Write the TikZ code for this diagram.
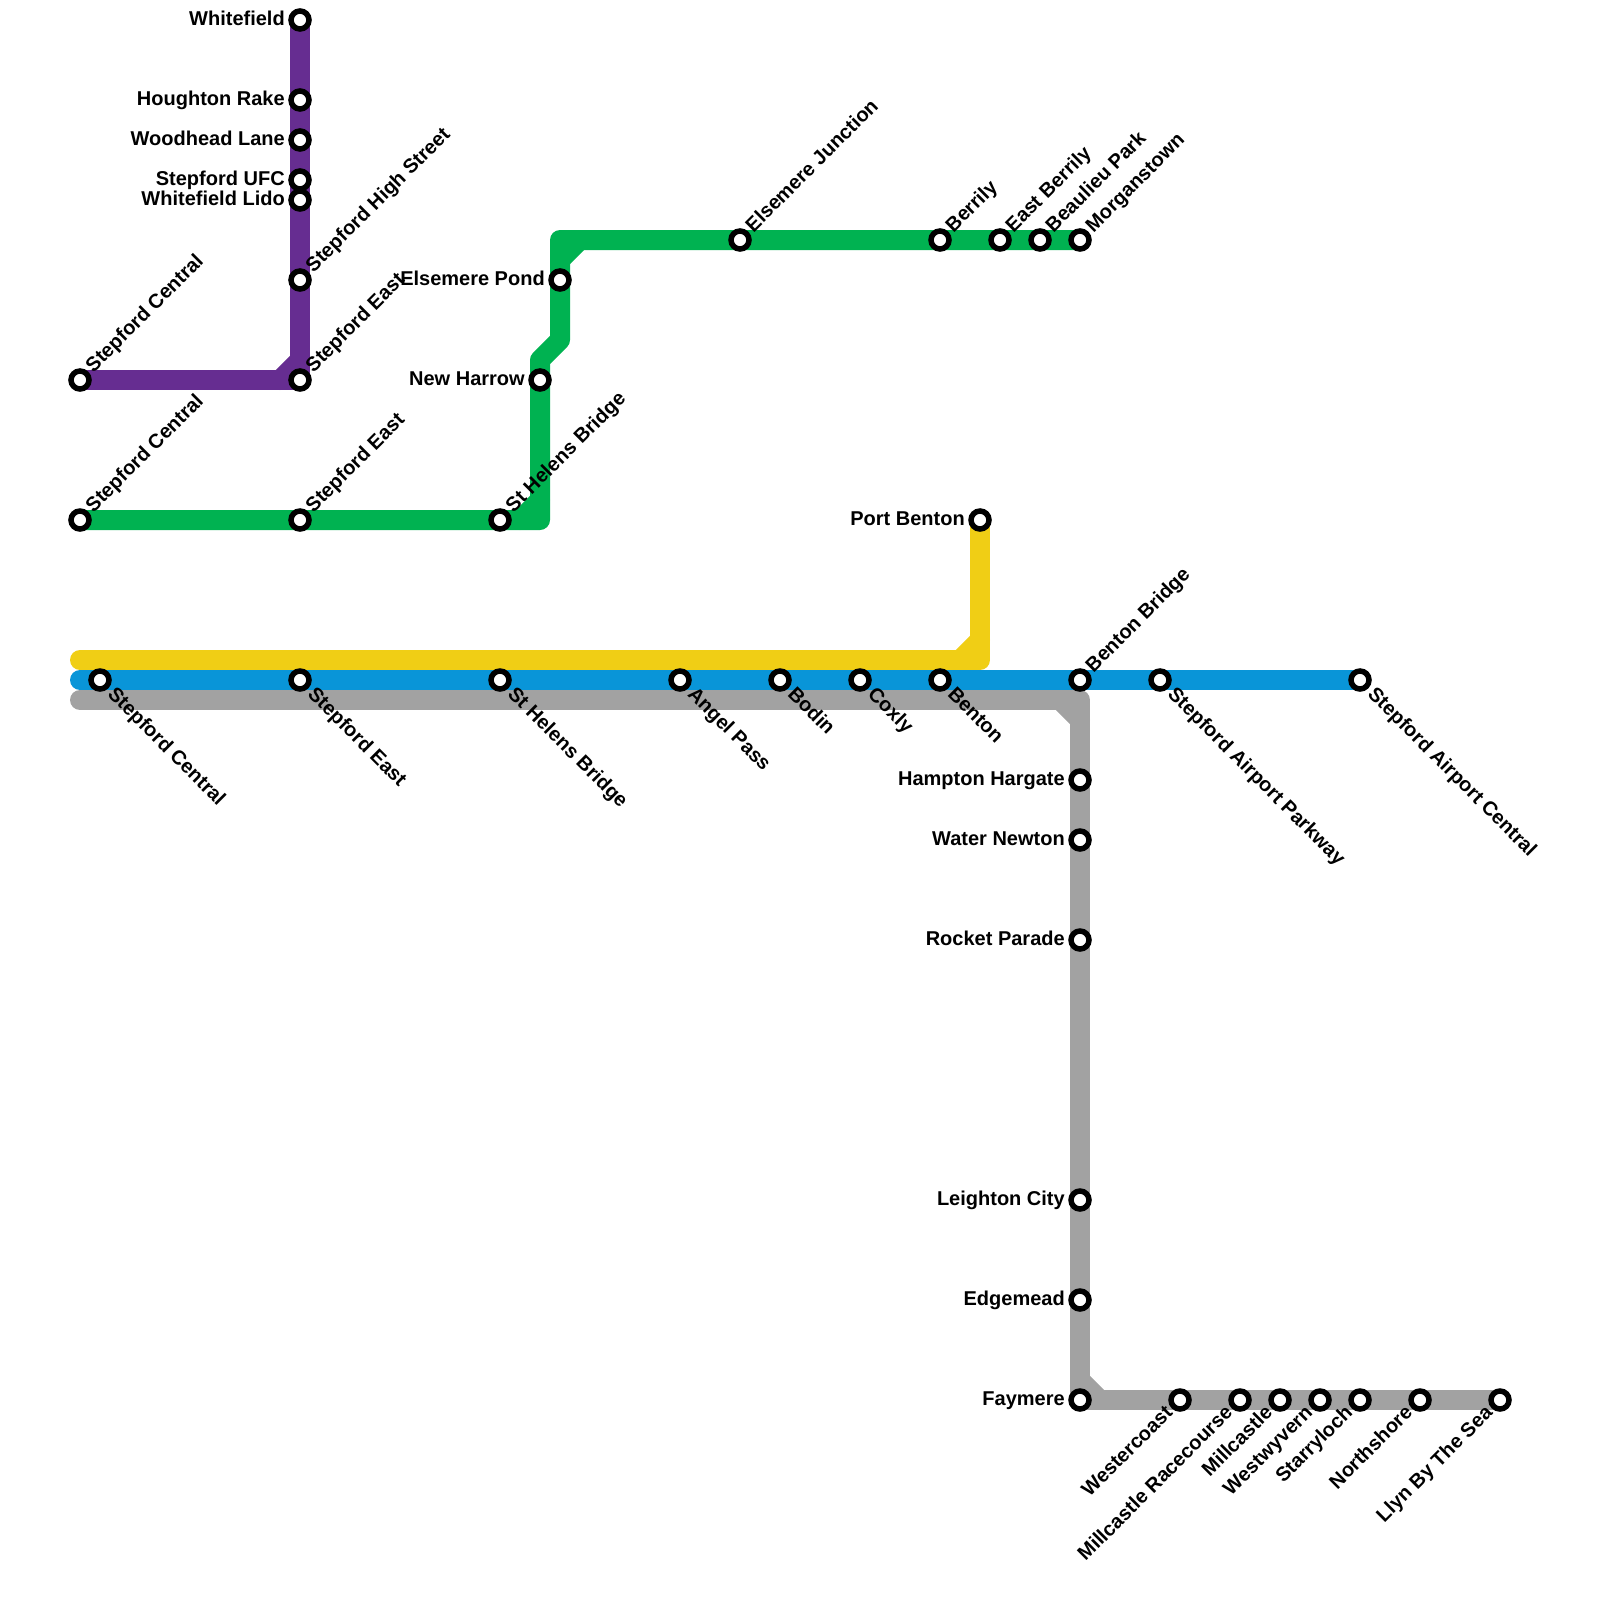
\documentclass[tikz,border=0pt]{standalone}
\usepackage{fontspec}
\setmainfont{Liberation Sans}
\usepackage{xcolor}
\usepackage{tikz}
\usetikzlibrary{backgrounds}

\definecolor{purpleline}{RGB}{102,45,145}
\definecolor{greenline}{RGB}{0,178,81}
\definecolor{yellowline}{RGB}{240,206,21}
\definecolor{blueline}{RGB}{9,149,216}
\definecolor{greyline}{RGB}{162,162,162}

\begin{document}
\begin{tikzpicture}[
    x=1pt, y=-1pt,
    station/.style={circle, draw=black, fill=white, line width=5.5pt, minimum size=18pt, inner sep=0pt},
    stationtext/.style={font=\fontsize{20}{24}\selectfont\bfseries, text height=14.5pt, inner sep=0pt, text=black},
    lbleft/.style={label={[stationtext, text depth=3.5pt, label distance=3.3pt]left:#1}},
    lbup/.style={label={[stationtext, text depth=0pt, label distance=3.5pt, rotate=45, anchor=west]45:#1}},
    lbdown/.style={label={[stationtext, text depth=10pt, label distance=5.5pt, rotate=-45, anchor=west]-45:#1}},
    lbunder/.style={label={[stationtext, text depth=9pt, label distance=3.5pt, rotate=45, anchor=east]225:#1}},
    route/.style={line width=20pt, line cap=round, line join=round}
]
\useasboundingbox (0,0) rectangle (1600,1600);

% Purple line
\node[station, lbleft=Whitefield] (whitefield) at (300, 20) {};
\node[station, lbleft=Houghton Rake] (houghton) at (300, 100) {};
\node[station, lbleft=Woodhead Lane] (woodhead) at (300, 140) {};
\node[station, lbleft=Stepford UFC] (ufc) at (300, 180) {};
\node[station, lbleft=Whitefield Lido] (lido) at (300, 200) {};
\node[station, lbup=Stepford High Street] (highstreet) at (300, 280) {};
\node[station, lbup=Stepford East] (eastp) at (300, 380) {};
\node[station, lbup=Stepford Central] (centralp) at (80, 380) {};

% Green line
\node[station, lbup=Stepford Central] (centralg) at (80, 520) {};
\node[station, lbup=Stepford East] (eastg) at (300, 520) {};
\node[station, lbup=St Helens Bridge] (helensg) at (500, 520) {};
\node[station, lbleft=New Harrow] (harrow) at (540, 380) {};
\node[station, lbleft=Elsemere Pond] (pond) at (560, 280) {};
\node[station, lbup=Elsemere Junction] (junction) at (740, 240) {};
\node[station, lbup=Berrily] (berrily) at (940, 240) {};
\node[station, lbup=East Berrily] (eastberrily) at (1000, 240) {};
\node[station, lbup=Beaulieu Park] (beaulieu) at (1040, 240) {};
\node[station, lbup=Morganstown] (morgan) at (1080, 240) {};

% Yellow line
\node[station, lbleft=Port Benton] (portbenton) at (980, 520) {};

% Blue line
\node[station, lbdown=Stepford Central] (centralb) at (100, 680) {};
\node[station, lbdown=Stepford East] (eastb) at (300, 680) {};
\node[station, lbdown=St Helens Bridge] (helensb) at (500, 680) {};
\node[station, lbdown=Angel Pass] (angel) at (680, 680) {};
\node[station, lbdown=Bodin] (bodin) at (780, 680) {};
\node[station, lbdown=Coxly] (coxly) at (860, 680) {};
\node[station, lbdown=Benton] (benton) at (940, 680) {};
\node[station, lbup=Benton Bridge] (bentonbridge) at (1080, 680) {};
\node[station, lbdown=Stepford Airport Parkway] (parkway) at (1160, 680) {};
\node[station, lbdown=Stepford Airport Central] (airport) at (1360, 680) {};

% Grey line
\node[station, lbleft=Hampton Hargate] (hampton) at (1080, 780) {};
\node[station, lbleft=Water Newton] (newton) at (1080, 840) {};
\node[station, lbleft=Rocket Parade] (rocket) at (1080, 940) {};
\node[station, lbleft=Leighton City] (leighton) at (1080, 1200) {};
\node[station, lbleft=Edgemead] (edgemead) at (1080, 1300) {};
\node[station, lbleft=Faymere] (faymere) at (1080, 1400) {};
\node[station, lbunder=Westercoast] (westercoast) at (1180, 1400) {};
\node[station, lbunder=Millcastle Racecourse] (racecourse) at (1240, 1400) {};
\node[station, lbunder=Millcastle] (millcastle) at (1280, 1400) {};
\node[station, lbunder=Westwyvern] (westwyvern) at (1320, 1400) {};
\node[station, lbunder=Starryloch] (starryloch) at (1360, 1400) {};
\node[station, lbunder=Northshore] (northshore) at (1420, 1400) {};
\node[station, lbunder=Llyn By The Sea] (llyn) at (1500, 1400) {};

% Corners
\coordinate (purplecorner) at (300, 380);
\coordinate (purplecuta) at (300, 360);
\coordinate (purplecutb) at (280, 380);
\coordinate (greenlow) at (540, 520);
\coordinate (greencuta) at (520, 520);
\coordinate (greencutb) at (540, 500);
\coordinate (greenstepa) at (540, 360);
\coordinate (greenstepb) at (560, 340);
\coordinate (greentop) at (560, 240);
\coordinate (greencutc) at (560, 260);
\coordinate (greencutd) at (580, 240);
\coordinate (yellowstart) at (80, 660);
\coordinate (yellowcorner) at (980, 660);
\coordinate (yellowcuta) at (960, 660);
\coordinate (yellowcutb) at (980, 640);
\coordinate (bluestart) at (80, 680);
\coordinate (greystart) at (80, 700);
\coordinate (greycorner) at (1080, 700);
\coordinate (greycuta) at (1060, 700);
\coordinate (greycutb) at (1080, 720);
\coordinate (greycutc) at (1080, 1380);
\coordinate (greycutd) at (1100, 1400);

% Routes
\begin{scope}[on background layer]
\draw[route, yellowline] (portbenton.center) -- (yellowcorner) -- (yellowstart);
\draw[route, yellowline] (yellowcuta) -- (yellowcutb);
\draw[route, blueline] (bluestart) -- (airport.center);
\draw[route, greyline] (greystart) -- (greycorner) -- (faymere.center) -- (llyn.center);
\draw[route, greyline] (greycuta) -- (greycutb);
\draw[route, greyline] (greycutc) -- (greycutd);
\draw[route, purpleline] (whitefield.center) -- (purplecorner) -- (centralp.center);
\draw[route, purpleline] (purplecuta) -- (purplecutb);
\draw[route, greenline] (centralg.center) -- (greenlow) -- (greenstepa) -- (greenstepb) -- (greentop) -- (morgan.center);
\draw[route, greenline] (greencuta) -- (greencutb);
\draw[route, greenline] (greencutc) -- (greencutd);
\end{scope}

\end{tikzpicture}
\end{document}
